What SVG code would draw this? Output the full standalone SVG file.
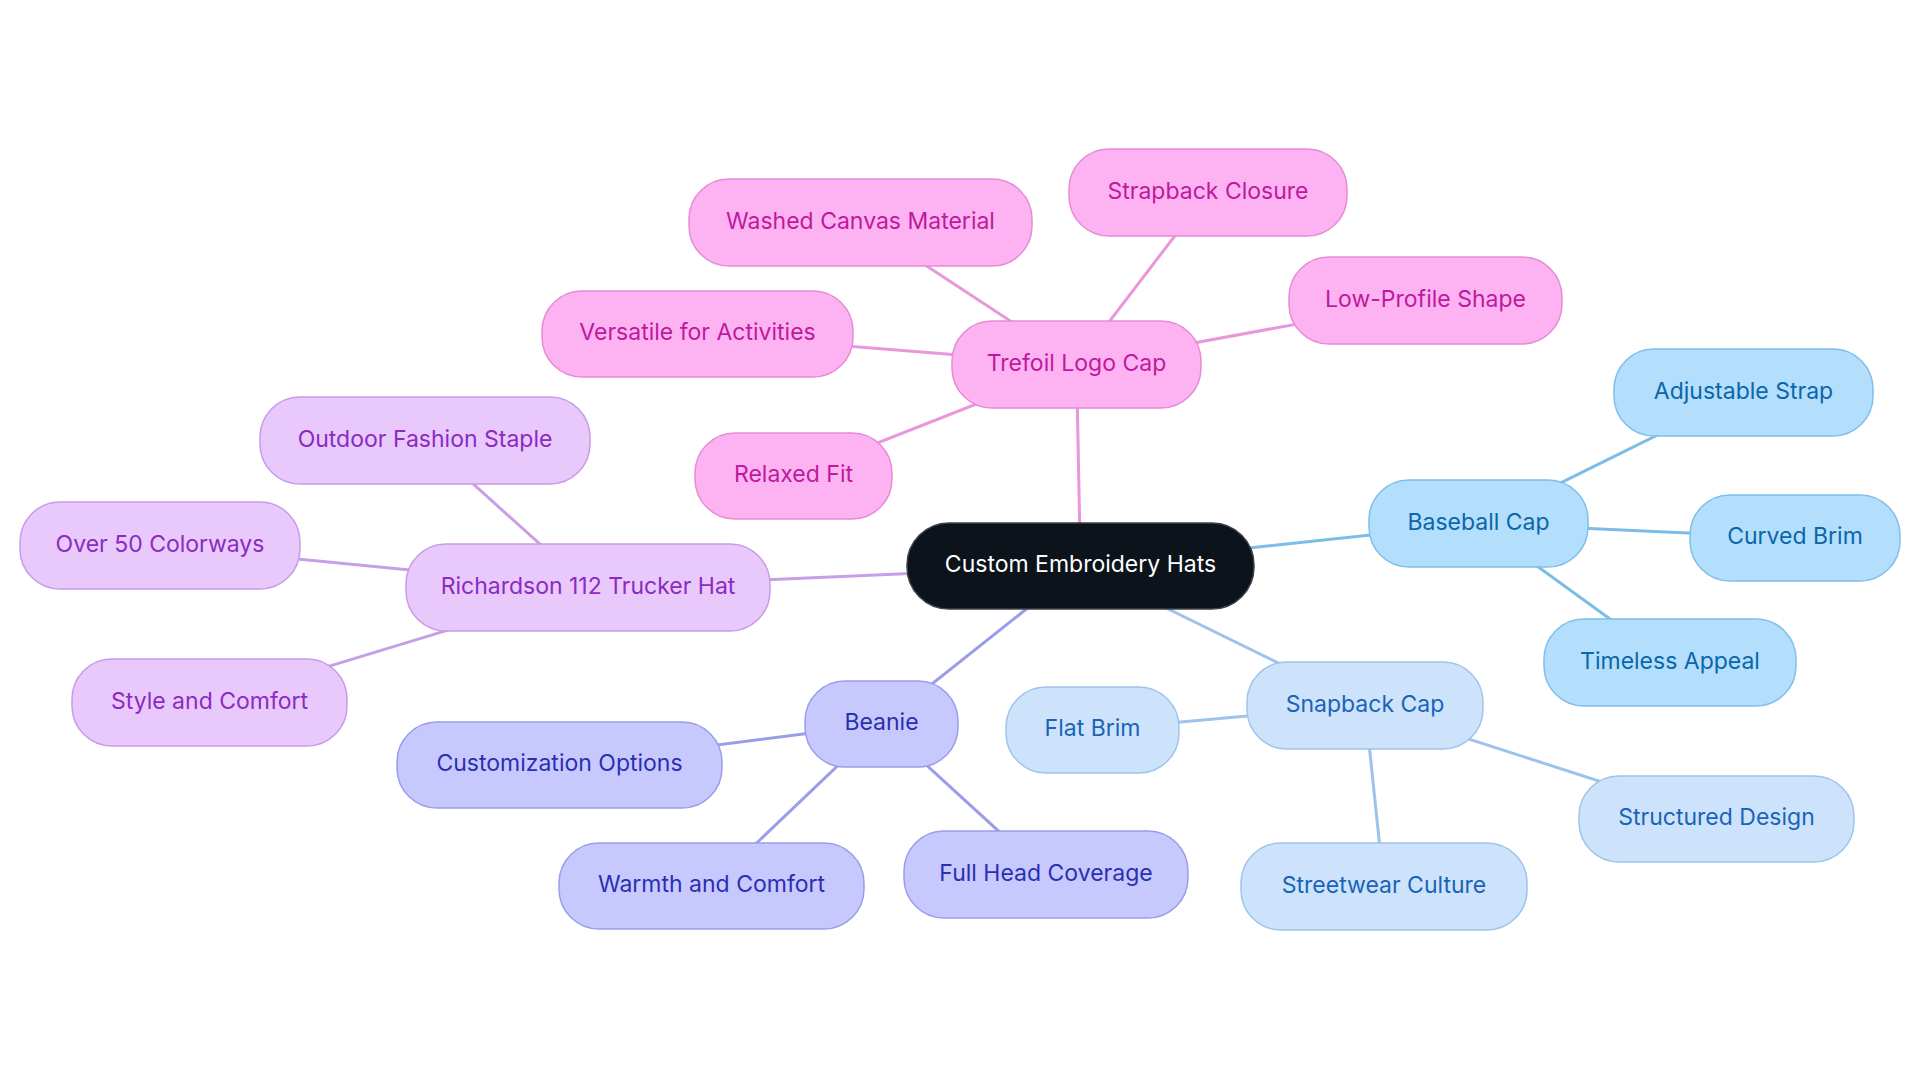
<svg xmlns="http://www.w3.org/2000/svg" width="1920" height="1083" viewBox="0 0 1920 1083">
<style>
text{font-family:Inter,"Noto Sans","Liberation Sans",sans-serif;font-size:23px;text-anchor:middle}
.e{stroke-width:3;fill:none;stroke-linecap:round}
.ep{stroke:#e996db}.eu{stroke:#c79fe8}.ei{stroke:#9a9ee9}.eb{stroke:#7cbde8}.es{stroke:#9dc3ea}
.root rect{fill:#0d131b;stroke:#3b4148;stroke-width:1.5}.root text{fill:#ffffff}
.p rect{fill:#fdb3f1;stroke:#e68bd6;stroke-width:1.5}.p text{fill:#c0189f}
.u rect{fill:#e9c8fc;stroke:#c89be8;stroke-width:1.5}.u text{fill:#8a2bc2}
.i rect{fill:#c7c9fe;stroke:#9a9de9;stroke-width:1.5}.i text{fill:#2b2fb0}
.b rect{fill:#b3defc;stroke:#7fbfea;stroke-width:1.5}.b text{fill:#0b66aa}
.s rect{fill:#cde3fb;stroke:#9ec4ec;stroke-width:1.5}.s text{fill:#1a63b8}
</style>
<rect width="1920" height="1083" fill="#ffffff"/>
<g id="connectors">
<line class="e ep" x1="1080.5" y1="566" x2="1076.5" y2="364.5"/>
<line class="e eu" x1="1080.5" y1="566" x2="588" y2="587.5"/>
<line class="e ei" x1="1080.5" y1="566" x2="881.5" y2="724"/>
<line class="e eb" x1="1080.5" y1="566" x2="1478.5" y2="523.5"/>
<line class="e es" x1="1080.5" y1="566" x2="1365" y2="705.5"/>
<line class="e ep" x1="1076.5" y1="364.5" x2="860.5" y2="222.5"/>
<line class="e ep" x1="1076.5" y1="364.5" x2="1208" y2="192.5"/>
<line class="e ep" x1="1076.5" y1="364.5" x2="1425.5" y2="300.5"/>
<line class="e ep" x1="1076.5" y1="364.5" x2="697.5" y2="334"/>
<line class="e ep" x1="1076.5" y1="364.5" x2="793.5" y2="476"/>
<line class="e eu" x1="588" y1="587.5" x2="425" y2="440.5"/>
<line class="e eu" x1="588" y1="587.5" x2="160" y2="545.5"/>
<line class="e eu" x1="588" y1="587.5" x2="209.5" y2="702.5"/>
<line class="e ei" x1="881.5" y1="724" x2="559.5" y2="765"/>
<line class="e ei" x1="881.5" y1="724" x2="711.5" y2="886"/>
<line class="e ei" x1="881.5" y1="724" x2="1046" y2="874.5"/>
<line class="e es" x1="1365" y1="705.5" x2="1092.5" y2="730"/>
<line class="e es" x1="1365" y1="705.5" x2="1384" y2="886.5"/>
<line class="e es" x1="1365" y1="705.5" x2="1716.5" y2="819"/>
<line class="e eb" x1="1478.5" y1="523.5" x2="1743.5" y2="392.5"/>
<line class="e eb" x1="1478.5" y1="523.5" x2="1795" y2="538"/>
<line class="e eb" x1="1478.5" y1="523.5" x2="1670" y2="662.5"/>
</g>
<g id="root" class="root"><rect x="907" y="523" width="347" height="86" rx="42"/><text x="1080.5" y="572">Custom Embroidery Hats</text></g>
<g id="trefoil" class="p"><rect x="952" y="321" width="249" height="87" rx="40"/><text x="1076.5" y="370.5">Trefoil Logo Cap</text></g>
<g id="washed" class="p"><rect x="689" y="179" width="343" height="87" rx="40"/><text x="860.5" y="228.5">Washed Canvas Material</text></g>
<g id="strapback" class="p"><rect x="1069" y="149" width="278" height="87" rx="40"/><text x="1208" y="198.5">Strapback Closure</text></g>
<g id="lowprofile" class="p"><rect x="1289" y="257" width="273" height="87" rx="40"/><text x="1425.5" y="306.5">Low-Profile Shape</text></g>
<g id="versatile" class="p"><rect x="542" y="291" width="311" height="86" rx="40"/><text x="697.5" y="340">Versatile for Activities</text></g>
<g id="relaxed" class="p"><rect x="695" y="433" width="197" height="86" rx="40"/><text x="793.5" y="482">Relaxed Fit</text></g>
<g id="richardson" class="u"><rect x="406" y="544" width="364" height="87" rx="40"/><text x="588" y="593.5">Richardson 112 Trucker Hat</text></g>
<g id="outdoor" class="u"><rect x="260" y="397" width="330" height="87" rx="40"/><text x="425" y="446.5">Outdoor Fashion Staple</text></g>
<g id="over50" class="u"><rect x="20" y="502" width="280" height="87" rx="40"/><text x="160" y="551.5">Over 50 Colorways</text></g>
<g id="stylecomfort" class="u"><rect x="72" y="659" width="275" height="87" rx="40"/><text x="209.5" y="708.5">Style and Comfort</text></g>
<g id="beanie" class="i"><rect x="805" y="681" width="153" height="86" rx="40"/><text x="881.5" y="730">Beanie</text></g>
<g id="customization" class="i"><rect x="397" y="722" width="325" height="86" rx="40"/><text x="559.5" y="771">Customization Options</text></g>
<g id="warmth" class="i"><rect x="559" y="843" width="305" height="86" rx="40"/><text x="711.5" y="892">Warmth and Comfort</text></g>
<g id="fullhead" class="i"><rect x="904" y="831" width="284" height="87" rx="40"/><text x="1046" y="880.5">Full Head Coverage</text></g>
<g id="baseball" class="b"><rect x="1369" y="480" width="219" height="87" rx="40"/><text x="1478.5" y="529.5">Baseball Cap</text></g>
<g id="adjustable" class="b"><rect x="1614" y="349" width="259" height="87" rx="40"/><text x="1743.5" y="398.5">Adjustable Strap</text></g>
<g id="curved" class="b"><rect x="1690" y="495" width="210" height="86" rx="40"/><text x="1795" y="544">Curved Brim</text></g>
<g id="timeless" class="b"><rect x="1544" y="619" width="252" height="87" rx="40"/><text x="1670" y="668.5">Timeless Appeal</text></g>
<g id="snapback" class="s"><rect x="1247" y="662" width="236" height="87" rx="40"/><text x="1365" y="711.5">Snapback Cap</text></g>
<g id="flatbrim" class="s"><rect x="1006" y="687" width="173" height="86" rx="40"/><text x="1092.5" y="736">Flat Brim</text></g>
<g id="streetwear" class="s"><rect x="1241" y="843" width="286" height="87" rx="40"/><text x="1384" y="892.5">Streetwear Culture</text></g>
<g id="structured" class="s"><rect x="1579" y="776" width="275" height="86" rx="40"/><text x="1716.5" y="825">Structured Design</text></g>
</svg>
